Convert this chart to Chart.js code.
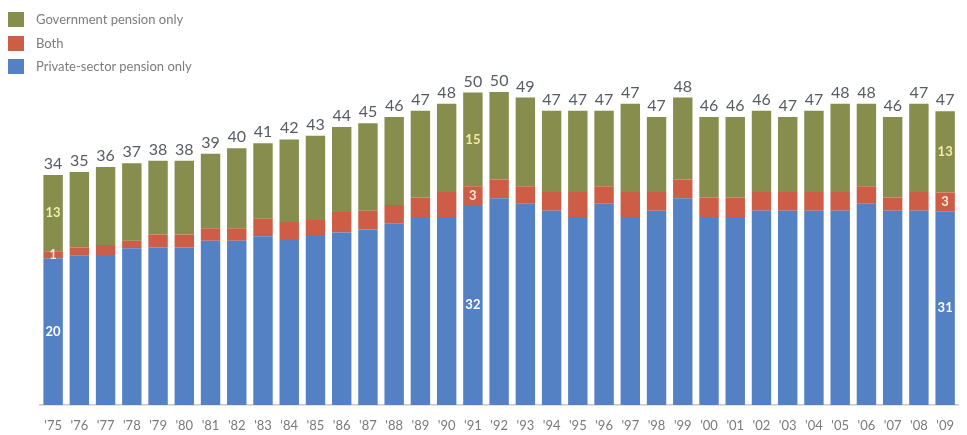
<!DOCTYPE html>
<html>
<head>
<meta charset="utf-8">
<script src="https://cdn.jsdelivr.net/npm/chart.js@4.4.1/dist/chart.umd.min.js"></script>
<style>
  html, body { margin: 0; padding: 0; background: #ffffff; }
  #wrap { position: relative; width: 967px; height: 435px; }
  #legend { position: absolute; left: 8px; top: 12px; font-family: Lato, "Open Sans", sans-serif; font-size: 13px; color: #7c7c7c; }
  #legend div { height: 23.5px; display: flex; align-items: flex-start; }
  #legend span.sw { display: inline-block; width: 16px; height: 15px; margin-right: 12px; }
  #legend span.tx { line-height: 15px; }
</style>
</head>
<body>
<div id="wrap">
  <canvas id="c" width="967" height="435"></canvas>
  <div id="legend"></div>
</div>
<script>
// ---- data ----
const years = ["'75","'76","'77","'78","'79","'80","'81","'82","'83","'84","'85","'86","'87","'88","'89","'90","'91","'92","'93","'94","'95","'96","'97","'98","'99","'00","'01","'02","'03","'04","'05","'06","'07","'08","'09"];
const privateOnly = [23.5,23.9,24.0,25.1,25.2,25.2,26.3,26.3,27.0,26.4,27.2,27.6,28.1,29.1,30.1,30.1,32,33.1,32.2,31.1,30.1,32.2,30.1,31.1,33.1,30.1,30.1,31.1,31.1,31.1,31.1,32.2,31.1,31.1,31];
const both        = [1.1,1.3,1.6,1.2,2.1,2.1,2.0,2.0,2.8,2.9,2.4,3.3,3.0,2.9,3.1,4.0,3,3.0,2.8,3.0,4.0,2.8,4.0,3.0,3.0,3.1,3.1,3.0,3.0,3.0,3.0,2.8,2.1,3.0,3];
const govOnly     = [12.2,12.1,12.5,12.4,11.8,11.8,11.9,12.8,12.1,13.2,13.5,13.6,14.0,14.1,13.9,14.1,15,14.0,14.2,13.0,13.0,12.1,14.1,12.0,13.1,12.9,12.9,13.0,12.0,13.0,14.1,13.2,12.9,14.1,13];
const totalLabels = [34,35,36,37,38,38,39,40,41,42,43,44,45,46,47,48,50,50,49,47,47,47,47,47,48,46,46,46,47,47,48,48,46,47,47];
// printed segment values on annotated bars
const noteIndex   = [0,16,34];
const notePrivate = [20,32,31];
const noteBoth    = [1,3,3];
const noteGov     = [13,15,13];

const seriesNames  = ["Private-sector pension only","Both","Government pension only"];
const seriesColors = ["#5381c3","#cd5d47","#878d4d"];

// HTML legend (top to bottom: Government, Both, Private)
const legendEl = document.getElementById('legend');
[2,1,0].forEach(i => {
  const row = document.createElement('div');
  row.innerHTML = '<span class="sw" style="background:' + seriesColors[i] + '"></span><span class="tx">' + seriesNames[i] + '</span>';
  legendEl.appendChild(row);
});

const FONT = 'Lato, "Open Sans", sans-serif';

const labelPlugin = {
  id: 'barLabels',
  afterDatasetsDraw(chart) {
    const ctx = chart.ctx;
    const metas = [0,1,2].map(i => chart.getDatasetMeta(i));
    ctx.save();
    ctx.textAlign = 'center';
    // totals
    ctx.font = '16px ' + FONT;
    ctx.fillStyle = '#565b64';
    ctx.textBaseline = 'alphabetic';
    metas[2].data.forEach((el, i) => {
      ctx.fillText(String(totalLabels[i]), el.x, el.y - 6);
    });
    // notes inside bars
    ctx.textBaseline = 'middle';
    ctx.font = 'bold 13px ' + FONT;
    noteIndex.forEach((idx, k) => {
      const p = metas[0].data[idx], b = metas[1].data[idx], g = metas[2].data[idx];
      ctx.fillStyle = '#ffffff';
      ctx.fillText(String(notePrivate[k]), p.x, (p.y + p.base) / 2);
      ctx.fillStyle = '#fbe8d8';
      ctx.fillText(String(noteBoth[k]), b.x, (b.y + b.base) / 2);
      ctx.fillStyle = '#f1eda4';
      ctx.fillText(String(noteGov[k]), g.x, (g.y + g.base) / 2);
    });
    ctx.restore();
  }
};

new Chart(document.getElementById('c'), {
  type: 'bar',
  data: {
    labels: years,
    datasets: [
      { label: seriesNames[0], data: privateOnly, backgroundColor: seriesColors[0] },
      { label: seriesNames[1], data: both,        backgroundColor: seriesColors[1] },
      { label: seriesNames[2], data: govOnly,     backgroundColor: seriesColors[2] }
    ]
  },
  options: {
    responsive: false,
    animation: false,
    devicePixelRatio: 1,
    layout: { padding: { left: 40, right: 0, top: 55, bottom: 0 } },
    datasets: { bar: { categoryPercentage: 1, barPercentage: 0.74, borderWidth: 0 } },
    scales: {
      x: {
        stacked: true,
        grid: { display: false, drawTicks: false },
        border: { display: true, color: '#c9c9c9', width: 1.5 },
        ticks: { color: '#7a7a7a', font: { family: FONT, size: 13 }, padding: 13, maxRotation: 0, autoSkip: false },
        afterFit(scale) { scale.height = 30; }
      },
      y: { stacked: true, min: 0, max: 56, display: false }
    },
    plugins: { legend: { display: false }, tooltip: { enabled: false } }
  },
  plugins: [labelPlugin]
});
</script>
</body>
</html>
